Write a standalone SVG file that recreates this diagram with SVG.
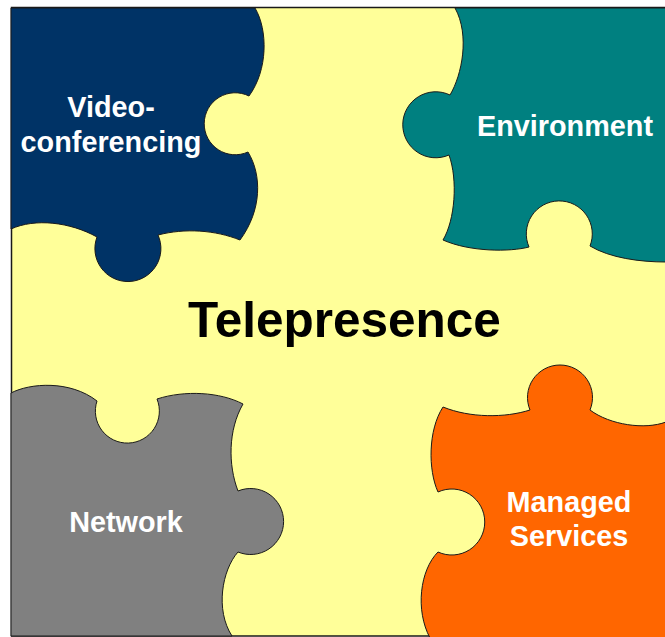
<svg xmlns="http://www.w3.org/2000/svg" width="665" height="637" viewBox="0 0 665 637">
  <style>
    .piece { stroke: #1a1a1a; stroke-width: 1; stroke-linejoin: round; }
    .label { font-family: "Liberation Sans", Arial, sans-serif; font-weight: bold; font-size: 28.8px; fill: #ffffff; text-anchor: middle; }
    .title { font-family: "Liberation Sans", Arial, sans-serif; font-weight: bold; font-size: 49.5px; fill: #000000; text-anchor: middle; }
  </style>

  <!-- board -->
  <rect id="board" x="11.5" y="7.5" width="670" height="628.5" fill="#FFFF99" stroke="#1a1a1a" stroke-width="1.5"/>

  <g id="videoconferencing">
    <path class="piece" fill="#003366" d="M 11 8 L 255 8 C 268 30, 268 70, 249 96 A 31 31 0 1 0 248 152 C 262 175, 262 210, 240 240 C 215 230, 185 228, 158 235 A 33 33 0 1 1 97 237 C 70 222, 35 218, 11 229 Z"/>
    <text class="label" x="111" y="117">Video-</text>
    <text class="label" x="111" y="152">conferencing</text>
  </g>

  <g id="environment">
    <path class="piece" fill="#008080" d="M 455 8 L 666 8 L 666 262 C 640 262, 610 258, 590 246 A 33 33 0 1 0 529 247 C 510 252, 470 252, 443 240 C 455 220, 458 180, 449 155 A 33 33 0 1 1 450 95 C 462 75, 470 35, 455 8 Z"/>
    <text class="label" x="565" y="136">Environment</text>
  </g>

  <g id="network">
    <path class="piece" fill="#808080" d="M 11 393 C 30 383, 70 380, 97 401 A 32 32 0 1 0 157 399 C 185 390, 220 392, 243 404 C 228 430, 228 465, 238 491 A 33 33 0 1 1 238 552 C 222 570, 215 610, 232 636 L 11 636 Z"/>
    <text class="label" x="126" y="532">Network</text>
  </g>

  <g id="managed-services">
    <path class="piece" fill="#FF6600" d="M 443 407 C 470 418, 505 418, 530 410 A 32.5 32.5 0 1 1 590 410 C 610 425, 645 430, 666 422 L 666 638 L 430 638 C 415 610, 420 570, 438 552 A 33 33 0 1 0 438 492 C 428 470, 428 430, 443 407 Z"/>
    <text class="label" x="569" y="512">Managed</text>
    <text class="label" x="569" y="546">Services</text>
  </g>

  <g id="telepresence">
    <text class="title" x="344.5" y="337">Telepresence</text>
  </g>
</svg>
